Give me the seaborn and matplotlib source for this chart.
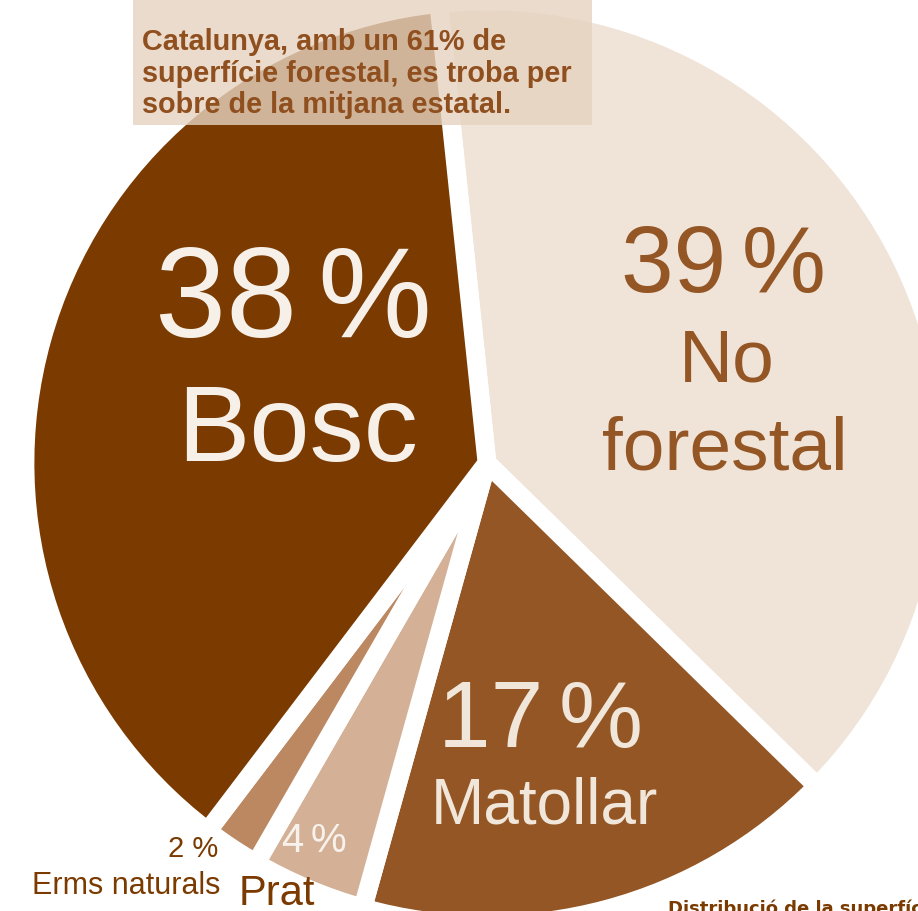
import matplotlib
matplotlib.use("Agg")
import matplotlib.pyplot as plt
import matplotlib.patches as mpatches
import seaborn as sns

# data: land use in Catalunya (% of surface)
categories = ["No forestal", "Matollar", "Prat", "Erms naturals", "Bosc"]
shares = [39, 17, 4, 2, 38]
pct_labels = ["39\u2006%", "17\u2006%", "4\u2006%", "2 %", "38\u2006%"]
name_labels = [["No", "forestal"], ["Matollar"], ["Prat"], ["Erms naturals"], ["Bosc"]]
note_lines = ["Catalunya, amb un 61% de",
              "superfície forestal, es troba per",
              "sobre de la mitjana estatal."]
footer = "Distribució de la superfície de Catalunya"

colors = ["#f0e4d8", "#935624", "#d4b196", "#bb8862", "#7a3a00"]

sns.set_theme(style="white")
plt.rcParams["font.family"] = ["Liberation Sans", "DejaVu Sans"]

W, H = 918, 911
fig = plt.figure(figsize=(W / 100, H / 100), dpi=100)
ax = fig.add_axes([0, 0, 1, 1])

# pie in pixel-like units, y going up (negative = down from the top)
ax.pie(shares, colors=colors, startangle=96, counterclock=False,
       radius=462, center=(487, -463),
       wedgeprops=dict(edgecolor="white", linewidth=13.5, joinstyle="round"))

ax.set_xlim(0, W)
ax.set_ylim(-H, 0)
ax.set_aspect("equal")
ax.axis("off")

# label layout: (x, baseline y from top, size, colour, ha)
pct_layout = [
    (723, 292, 68, "#935624", "center"),
    (541, 747, 68, "#f1e6da", "center"),
    (314, 852, 29, "#f8f2ec", "center"),
    (218, 857, 21, "#7a3a00", "right"),
    (293, 337, 92, "#f6f0e9", "center"),
]
name_layout = [
    [(727, 382, 54, "#935624", "center"), (725, 470, 54, "#935624", "center")],
    [(544, 823, 46, "#f1e6da", "center")],
    [(277, 905, 30, "#7a3a00", "center")],
    [(220, 894, 22, "#7a3a00", "right")],
    [(298, 461, 78, "#f6f0e9", "center")],
]

for i in range(len(categories)):
    x, y, s, c, ha = pct_layout[i]
    ax.text(x, -y, pct_labels[i], fontsize=s, color=c, ha=ha, va="baseline", zorder=5)
    for txt, (x, y, s, c, ha) in zip(name_labels[i], name_layout[i]):
        ax.text(x, -y, txt, fontsize=s, color=c, ha=ha, va="baseline", zorder=5)

# translucent note box over the top of the pie
box = mpatches.Rectangle((133, -125), 459, 125, facecolor="#e6d3c0",
                         alpha=0.8, edgecolor="none", zorder=4)
ax.add_patch(box)
for j, line in enumerate(note_lines):
    ax.text(142, -(50 + 31.5 * j), line, fontsize=20.8, fontweight="bold",
            color="#8f4f1e", ha="left", va="baseline", zorder=6)

ax.text(668, -899, footer, fontsize=13, fontweight="bold", color="#7a3a00",
        ha="left", va="top", family=["DejaVu Sans"], zorder=6)

fig.savefig("out.png", dpi=100)
